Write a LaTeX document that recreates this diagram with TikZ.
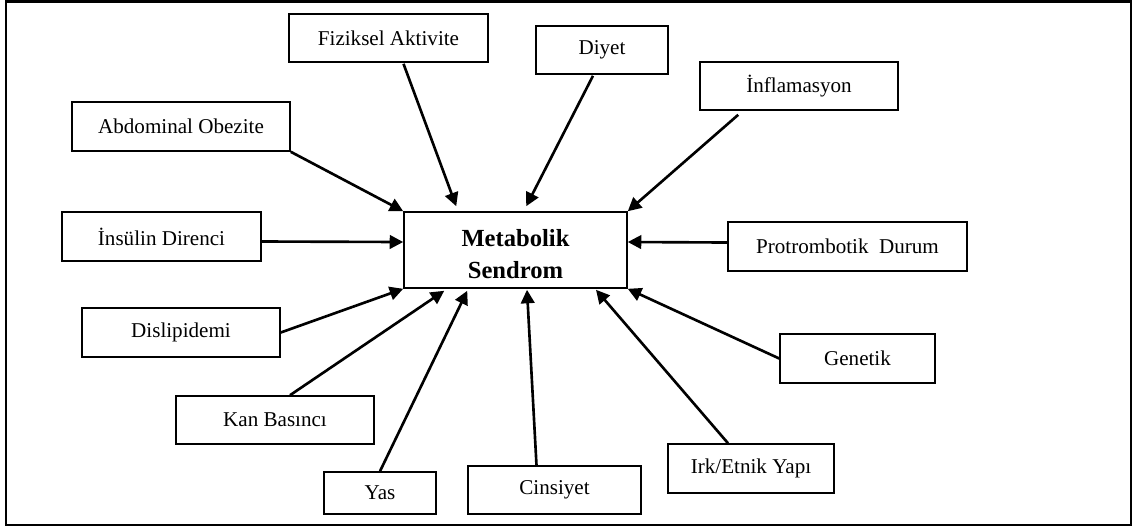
\documentclass[tikz,border=0pt]{standalone}
\usepackage{fontspec}
\setmainfont{Liberation Serif}
\usetikzlibrary{arrows.meta, calc}

\begin{document}
\begin{tikzpicture}[
    x=0.02cm, y=-0.02cm,
    box/.style={rectangle, draw, line width=0.9pt, inner sep=0pt, minimum height=0.96cm, text centered, font=\fontsize{12}{14}\selectfont},
    arrow/.style={-{Triangle[length=0.27cm, width=0.27cm]}, line width=1.5pt}
]
    \useasboundingbox (0,0) rectangle (1134,529);
    \draw[line width=1.2pt] (6,1.5) rectangle (1131,525);

    \node[box, minimum width=4.46cm, minimum height=1.52cm, align=center, font=\bfseries\fontsize{14}{18.2}\selectfont] (ms) at (515.5,250) {Metabolik\rule{0pt}{0.5cm}\\Sendrom};

    \node[box, minimum width=3.98cm] (fiz) at (388.5,38) {Fiziksel Aktivite\hspace{0.28cm}};
    \node[box, minimum width=2.64cm] (diy) at (602,50) {Diyet};
    \node[box, minimum width=3.96cm] (inf) at (799,86) {İnflamasyon};
    \node[box, minimum width=4.36cm, minimum height=0.98cm] (abd) at (181,126.5) {Abdominal Obezite\hspace{0.2cm}};
    \node[box, minimum width=3.98cm, minimum height=0.98cm] (ins) at (161.5,236.5) {İnsülin Direnci\hspace{0.58cm}};
    \node[box, minimum width=4.78cm, minimum height=0.98cm] (pro) at (847.5,246.5) {Protrombotik\ \ Durum};
    \node[box, minimum width=3.96cm, minimum height=0.98cm] (dis) at (181,332.5) {Dislipidemi};
    \node[box, minimum width=3.10cm, minimum height=0.98cm] (gen) at (857.5,358.5) {Genetik};
    \node[box, minimum width=3.96cm] (kan) at (275,420) {Kan Basıncı};
    \node[box, minimum width=3.32cm, minimum height=0.98cm] (irk) at (751,468.5) {Irk/Etnik Yapı};
    \node[box, minimum width=2.24cm, minimum height=0.84cm] (yas) at (380,493) {Yas};
    \node[box, minimum width=3.46cm] (cin) at (554.5,490) {Cinsiyet};

    % factors pointing at the centre box
    \draw[arrow] (abd.south east) -- (ms.north west);
    \draw[arrow] ($(fiz.south)+(15,1)$) -- ($(ms.north west)+(53,-5)$);
    \draw[arrow] ($(diy.south)+(-9,1)$) -- ($(ms.north west)+(123,-5)$);
    \draw[arrow] ($(inf.south west)+(39,4)$) -- (ms.north east);
    \draw[arrow] ($(ins.east)+(0,5)$) -- ($(ms.west)+(0,-8)$);
    \draw[arrow] ($(pro.west)+(0,-4)$) -- ($(ms.east)+(0,-8)$);
    \draw[arrow] (dis.east) -- (ms.south west);
    \draw[arrow] ($(kan.north)+(15,0)$) -- ($(ms.south west)+(41,2)$);
    \draw[arrow] (yas.north) -- ($(ms.south west)+(64,2)$);
    \draw[arrow] ($(cin.north)+(-18,0)$) -- ($(ms.south)+(11.5,1)$);
    \draw[arrow] ($(irk.north)+(-23,0)$) -- ($(ms.south)+(80.5,1)$);
    \draw[arrow] (gen.west) -- (ms.south east);
\end{tikzpicture}
\end{document}
